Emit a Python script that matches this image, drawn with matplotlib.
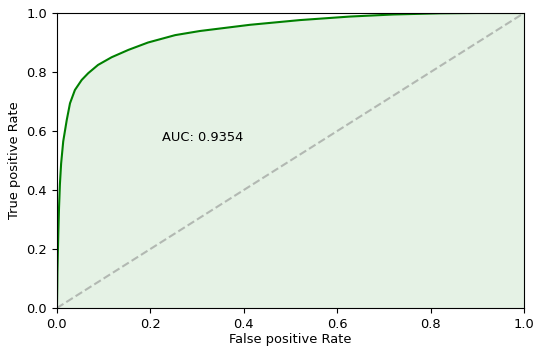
import numpy as np
import matplotlib
matplotlib.use('Agg')
import matplotlib.pyplot as plt

plt.rcParams['font.size'] = 9.4

# ROC points
fpr = [0, 0.0007, 0.001, 0.003, 0.0045, 0.0064, 0.009, 0.0135, 0.021, 0.028, 0.0385, 0.053, 0.067,
       0.088, 0.117, 0.153, 0.195, 0.253, 0.306, 0.413, 0.52, 0.627, 0.72, 0.82, 0.9, 1.0]
tpr = [0, 0.072, 0.12, 0.254, 0.34, 0.42, 0.49, 0.565, 0.637, 0.694, 0.739, 0.773, 0.796,
       0.824, 0.850, 0.875, 0.900, 0.925, 0.939, 0.960, 0.976, 0.988, 0.995, 0.999, 1.0, 1.0]
auc = 0.9354

fig = plt.figure(figsize=(5.37, 3.47), dpi=100)
ax = fig.add_axes([0.106, 0.1124, 0.870, 0.8501])

ax.plot(fpr, tpr, color='green', lw=1.5)
ax.fill_between(fpr, tpr, 0, color='green', alpha=0.1, lw=0)
ax.plot([0, 1], [0, 1], ls='--', color='grey', alpha=0.5)
ax.text(0.225, 0.565, 'AUC: {:.4f}'.format(auc))

ax.set_xlim(0, 1)
ax.set_ylim(0, 1)
ax.set_xlabel('False positive Rate', labelpad=2)
ax.set_ylabel('True positive Rate')
fig.savefig('out.png', dpi=100)
